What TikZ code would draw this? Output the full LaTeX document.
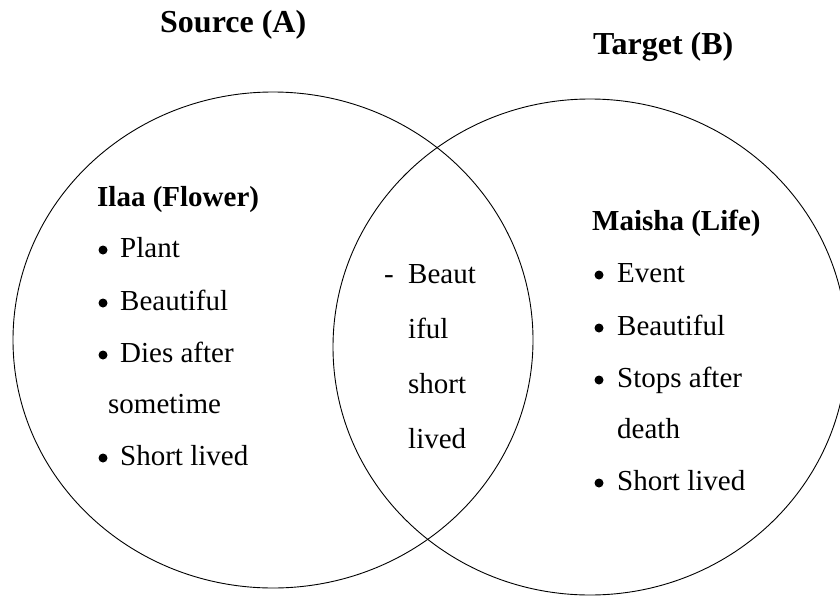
\documentclass[tikz,border=0pt]{standalone}
\usepackage{fontspec}
\setmainfont{Liberation Serif}
\begin{document}
\begin{tikzpicture}[x=1pt,y=-1pt,
  setcircle/.style={draw=black,line width=0.9pt},
  body/.style={anchor=base west,inner sep=0pt,font=\fontsize{29}{29}\selectfont},
  head/.style={anchor=base west,inner sep=0pt,font=\fontsize{29}{29}\selectfont\bfseries},
  ttl/.style={anchor=base west,inner sep=0pt,font=\fontsize{32}{32}\selectfont\bfseries},
  dot/.style={circle,fill=black,inner sep=0pt,minimum size=9pt}]
\useasboundingbox (0,0) rectangle (840,597);
\begin{scope}
\clip (0,0) rectangle (840,597);
\draw[setcircle] (273,340) ellipse [x radius=260, y radius=248];
\draw[setcircle] (590,347) ellipse [x radius=257, y radius=248];
\end{scope}
% titles
\node[ttl] (tA) at (160,32) {Source (A)};
\node[ttl] (tB) at (593,54) {Target (B)};
% left
\node[head] (la) at (97,206) {Ilaa (Flower)};
\node[dot] (lb1) at (103,250) {};
\node[body] (l1) at (120,257) {Plant};
\node[dot] (lb2) at (103,303) {};
\node[body] (l2) at (120,310) {Beautiful};
\node[dot] (lb3) at (103,355) {};
\node[body] (l3) at (120,362) {Dies after};
\node[body] (l3b) at (108,413) {sometime};
\node[dot] (lb4) at (103,458) {};
\node[body] (l4) at (120,465) {Short lived};
% middle
\node[body] (mdash) at (384,283) {-};
\node[body] (m1) at (408,283) {Beaut};
\node[body] (m2) at (408,338) {iful};
\node[body] (m3) at (408,393) {short};
\node[body] (m4) at (408,448) {lived};
% right
\node[head] (ra) at (592,230) {Maisha (Life)};
\node[dot] (rb1) at (599,275) {};
\node[body] (r1) at (617,282) {Event};
\node[dot] (rb2) at (599,328) {};
\node[body] (r2) at (617,335) {Beautiful};
\node[dot] (rb3) at (599,380) {};
\node[body] (r3) at (617,387) {Stops after};
\node[body] (r3b) at (617,438) {death};
\node[dot] (rb4) at (599,483) {};
\node[body] (r4) at (617,490) {Short lived};
\end{tikzpicture}
\end{document}
